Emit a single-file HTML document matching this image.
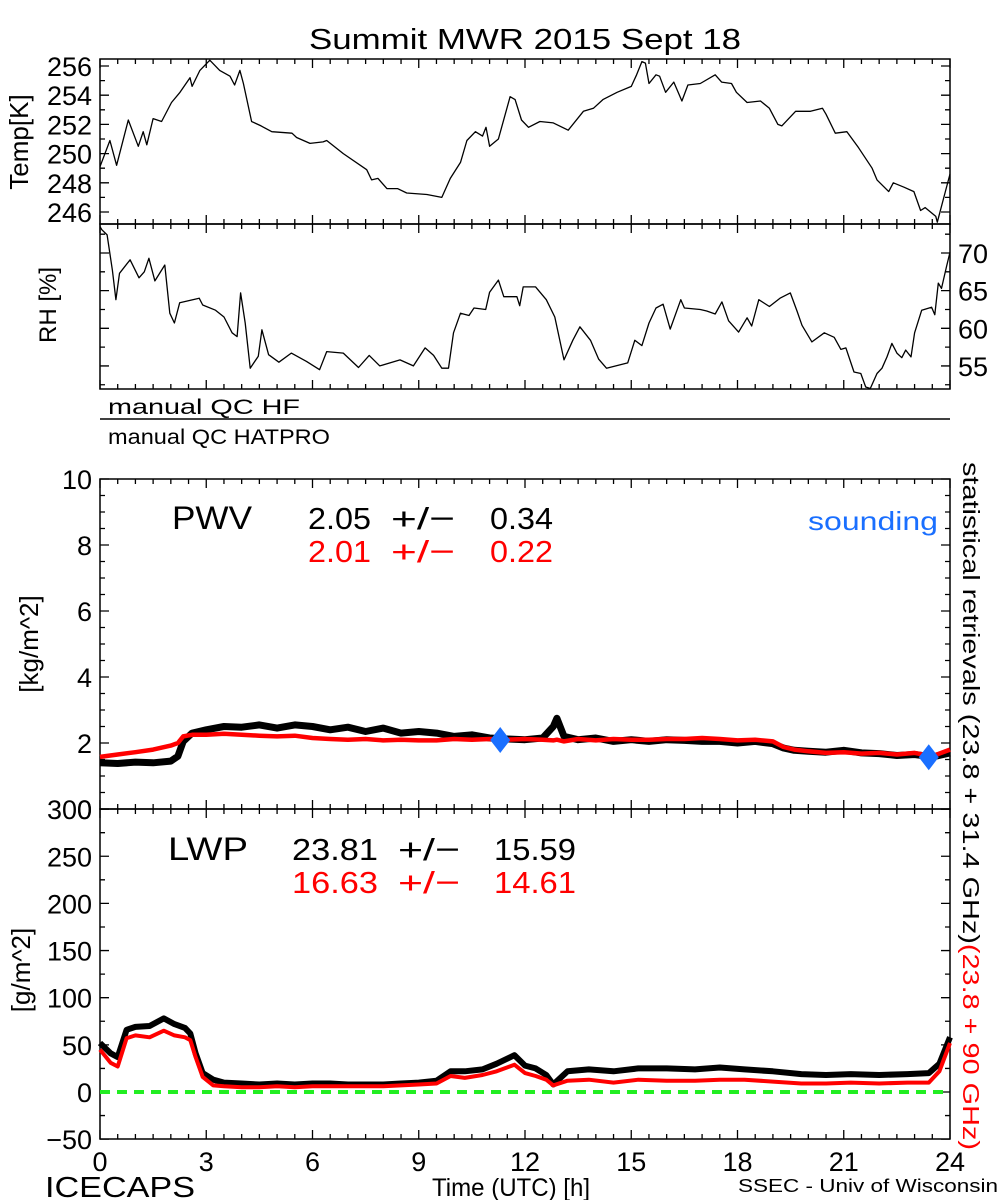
<!DOCTYPE html>
<html><head><meta charset="utf-8"><style>
html,body{margin:0;padding:0;background:#fff;}
svg{display:block;font-family:"Liberation Sans",sans-serif;}
</style></head><body>
<svg id="chart" xmlns="http://www.w3.org/2000/svg" width="1000" height="1200" viewBox="0 0 1000 1200">
<rect width="1000" height="1200" fill="#fff"/>
<text x="525" y="49" font-size="29" text-anchor="middle" textLength="432" lengthAdjust="spacingAndGlyphs">Summit MWR 2015 Sept 18</text>
<g id="g"></g>
</svg>
<script>
// ---- data ----
const tempT=[0,0.28,0.47,0.8,1.08,1.22,1.32,1.5,1.74,2.02,2.26,2.54,2.6,2.82,3.1,3.38,3.67,3.8,3.95,4.05,4.28,4.55,4.62,4.85,5.42,5.55,5.93,6.3,6.4,6.87,7.53,7.67,7.85,8.1,8.4,8.66,9.23,9.65,9.89,10.18,10.36,10.6,10.8,10.9,11.0,11.25,11.58,11.72,11.9,12.1,12.42,12.8,13.22,13.65,13.93,14.2,14.6,15.0,15.15,15.3,15.4,15.5,15.7,15.8,15.97,16.2,16.43,16.6,16.95,17.37,17.55,17.83,17.97,18.27,18.65,18.9,19.14,19.25,19.64,20.06,20.4,20.5,20.76,21.09,21.42,21.8,21.94,22.27,22.4,22.7,22.98,23.17,23.3,23.6,23.64,24.0];
const tempV=[249.1,250.9,249.2,252.3,250.5,251.5,250.6,252.4,252.2,253.5,254.2,255.2,254.6,255.7,256.4,255.7,255.3,254.7,255.7,254.8,252.2,251.9,251.8,251.5,251.4,251.1,250.7,250.8,250.9,250.0,248.9,248.2,248.3,247.6,247.6,247.3,247.2,247.0,248.3,249.4,250.9,251.5,251.2,251.8,250.5,251.0,253.9,253.7,252.3,251.8,252.2,252.1,251.6,252.9,253.1,253.7,254.2,254.6,255.4,256.3,256.2,254.8,255.4,255.3,254.2,254.9,253.6,254.7,254.8,255.4,254.9,254.8,254.2,253.5,253.6,253.1,252.0,251.9,252.9,252.9,253.1,252.7,251.4,251.5,250.4,249.0,248.2,247.4,248.0,247.7,247.4,246.1,246.3,245.7,245.3,248.6];
const rhT=[0,0.05,0.2,0.35,0.45,0.55,0.85,1.1,1.25,1.38,1.55,1.83,1.97,2.1,2.25,2.8,2.9,3.26,3.5,3.73,3.87,3.97,4.1,4.24,4.47,4.57,4.76,5.05,5.4,5.83,6.2,6.4,6.87,7.3,7.6,7.9,8.47,8.85,9.18,9.42,9.65,9.84,9.98,10.18,10.42,10.56,10.89,11.0,11.25,11.4,11.77,11.85,11.95,12.3,12.6,12.84,13.1,13.35,13.55,13.85,14.08,14.3,14.9,15.1,15.3,15.5,15.7,15.9,16.1,16.4,16.5,16.95,17.13,17.37,17.56,17.75,18.03,18.27,18.4,18.6,18.9,19.2,19.49,19.68,19.82,20.1,20.45,20.73,20.92,21.06,21.29,21.48,21.62,21.75,21.94,22.08,22.22,22.36,22.5,22.64,22.75,22.9,23.0,23.2,23.48,23.57,23.67,23.76,23.9,24.0];
const rhV=[73.5,73.1,72.4,67.7,63.8,67.3,69.1,66.7,67.5,69.3,66.3,68.4,62.0,60.7,63.4,64.0,63.1,62.4,61.5,59.4,58.9,64.7,60.7,54.7,56.3,59.8,56.5,55.5,56.7,55.6,54.5,56.9,56.7,54.8,56.4,55.0,55.8,55.0,57.4,56.4,54.7,54.7,59.4,62.0,61.7,62.7,62.5,64.8,66.4,64.2,64.2,63.0,65.5,65.5,63.8,61.5,55.8,58.4,60.2,58.4,55.9,54.7,55.4,58.4,57.7,60.7,62.7,63.2,59.9,63.8,62.7,62.5,62.3,61.9,63.5,61.0,59.5,61.4,60.3,63.8,62.9,64.0,64.7,62.3,60.4,58.2,59.4,58.8,57.2,57.4,54.2,54.0,52.2,52.0,54.0,54.7,56.2,58.0,56.7,56.1,57.1,56.2,59.4,62.4,62.8,61.8,66.0,65.3,68.2,70.1];
const pwvT=[0,0.5,1,1.5,2,2.2,2.35,2.6,3,3.5,4,4.5,5,5.5,6,6.5,7,7.5,8,8.5,9,9.5,10,10.5,11,11.5,12,12.5,12.8,12.9,13.1,13.5,14,14.5,15,15.5,16,16.5,17,17.5,18,18.5,19,19.3,19.6,20,20.5,21,21.5,22,22.5,23,23.5,24];
const pwvBlack=[1.40,1.38,1.42,1.40,1.45,1.60,2.05,2.30,2.40,2.50,2.48,2.55,2.45,2.55,2.50,2.40,2.48,2.35,2.45,2.30,2.35,2.30,2.20,2.25,2.15,2.12,2.10,2.15,2.50,2.75,2.20,2.10,2.15,2.05,2.10,2.05,2.10,2.08,2.05,2.05,2.00,2.05,1.98,1.85,1.78,1.75,1.72,1.78,1.70,1.68,1.62,1.65,1.58,1.70];
const pwvRed=[1.58,1.65,1.72,1.80,1.92,2.00,2.20,2.25,2.25,2.28,2.25,2.22,2.20,2.22,2.15,2.12,2.10,2.12,2.08,2.10,2.08,2.08,2.12,2.10,2.12,2.10,2.12,2.10,2.08,2.10,2.05,2.12,2.08,2.12,2.10,2.10,2.12,2.12,2.15,2.12,2.08,2.10,2.05,1.88,1.80,1.75,1.70,1.72,1.68,1.70,1.65,1.70,1.60,1.80];
const sondeT=[11.3,23.4];
const sondeV=[2.09,1.57];
const lwpT=[0,0.3,0.5,0.75,1,1.4,1.8,2.1,2.4,2.55,2.7,2.9,3.2,3.5,4,4.5,5,5.5,6,6.5,7,7.5,8,8.5,9,9.5,9.9,10.3,10.8,11.2,11.7,12.0,12.3,12.6,12.8,13.2,13.8,14.5,15.2,16,16.8,17.5,18.2,19,19.8,20.5,21.2,22,22.8,23.4,23.7,24];
const lwpBlack=[52,41,37,66,69,70,78,72,68,62,41,20,13,10,9,8,9,8,9,9,8,8,8,9,10,12,22,22,24,30,39,28,25,18,8,22,24,22,25,25,24,26,24,22,19,18,19,18,19,20,30,58];
const lwpRed=[45,31,27,57,60,58,65,60,58,55,37,16,7,6,5,5,6,5,6,6,6,6,6,7,8,9,17,15,18,22,29,20,17,13,7,12,13,10,13,12,12,13,13,11,9,9,10,9,10,10,22,52];
const tempTicks=[246,248,250,252,254,256];
const rhTicks=[55,60,65,70];
const pwvTicks=[0,2,4,6,8,10];
const lwpTicks=[-50,0,50,100,150,200,250,300];
const xTicks=[0,3,6,9,12,15,18,21,24];

// ---- axes ----
const X0=100,X1=950;
const sx=h=>X0+(X1-X0)*h/24;
const syT=v=>66+(256-v)*14.6;
const syR=v=>253+(70-v)*7.53;
const syP=v=>809-v*33;
const syL=v=>1092-v*0.943;
const NS='http://www.w3.org/2000/svg';
const G=document.getElementById('g');
function mk(tag,attrs,parent){const e=document.createElementNS(NS,tag);for(const k in attrs)e.setAttribute(k,attrs[k]);(parent||G).appendChild(e);return e;}
function poly(ts,vs,sy){return ts.map((t,i)=>sx(t).toFixed(1)+','+sy(vs[i]).toFixed(1)).join(' ');}

function frame(name,top,bot){
  const r=mk('rect',{x:X0,y:top,width:X1-X0,height:bot-top,fill:'none',stroke:'#000','stroke-width':1.5});
  
  
  let d='';
  for(let h=0;h<=24;h+=0.5){const x=sx(h);const L=(h%3===0)?9:5;d+=`M${x},${bot}v${-L}M${x},${top}v${L}`;}
  const p=mk('path',{d:d,stroke:'#000','stroke-width':1.3,fill:'none'});
  
  
}
function yticks(name,vals,minor,sy,top,bot,side,labels){
  let d='';
  for(let v=vals[0]-minor*4;v<=vals[vals.length-1]+minor*4;v+=minor){const y=sy(v);if(y<top-0.5||y>bot+0.5)continue;const major=vals.some(a=>Math.abs(a-v)<1e-6);const L=major?9:5;
    if(side!=='right')d+=`M${X0},${y}h${L}`; if(side!=='left')d+=`M${X1},${y}h${-L}`;}
  const p=mk('path',{d:d,stroke:'#000','stroke-width':1.3,fill:'none'});
  
  
  if(labels){vals.forEach(v=>{const t=mk('text',{x:labels==='right'?958:92,y:sy(v)+10,'font-size':27,'text-anchor':labels==='right'?'start':'end'});t.textContent=(v<0?'\u2212'+(-v):v);
    
    });}
}
function line(name,ts,vs,sy,col,w){
  const e=mk('polyline',{points:poly(ts,vs,sy),fill:'none',stroke:col,'stroke-width':w,'stroke-linejoin':'round'});
  
  
}
frame('temp-panel',59,224);
yticks('temp',tempTicks,1,syT,59,224,'both','left');
line('temp-line',tempT,tempV,syT,'#000',1.3);
frame('rh-panel',224,389);
yticks('rh',rhTicks,2.5,syR,224,389,'both','right');
line('rh-line',rhT,rhV,syR,'#000',1.3);
const q=mk('line',{x1:X0,x2:X1,y1:419,y2:419,stroke:'#000','stroke-width':1.5});


frame('pwv-panel',479,809);
yticks('pwv',pwvTicks,0.5,syP,479,809,'both','left');
line('pwv-black-line',pwvT,pwvBlack,syP,'#000',7);
line('pwv-red-line',pwvT,pwvRed,syP,'#ff0000',4.5);
sondeT.forEach((t,i)=>{const x=sx(t),y=syP(sondeV[i]);
  const d=mk('polygon',{points:`${x},${y-13} ${x+10},${y} ${x},${y+13} ${x-10},${y}`,fill:'#1a6fff'});
  
  });
frame('lwp-panel',809,1139);
yticks('lwp',lwpTicks,25,syL,809,1139,'both','left');
const z=mk('line',{x1:X0,x2:X1,y1:syL(0),y2:syL(0),stroke:'#22ee22','stroke-width':4,'stroke-dasharray':'10,7'});


line('lwp-black-line',lwpT,lwpBlack,syL,'#000',6);
line('lwp-red-line',lwpT,lwpRed,syL,'#ff0000',4);
xTicks.forEach(h=>{const t=mk('text',{x:sx(h),y:1171,'font-size':27,'text-anchor':'middle'});t.textContent=h;
  
  });
</script>
<svg style="position:absolute;left:0;top:0" width="1000" height="1200" font-family="Liberation Sans, sans-serif">
<text transform="translate(28,142) rotate(-90)" font-size="26" text-anchor="middle">Temp[K]</text>
<text transform="translate(56,305) rotate(-90)" font-size="24" text-anchor="middle">RH [%]</text>
<text x="108" y="414" font-size="21" textLength="192" lengthAdjust="spacingAndGlyphs">manual QC HF</text>
<text x="108" y="444" font-size="21" textLength="222" lengthAdjust="spacingAndGlyphs">manual QC HATPRO</text>
<text transform="translate(38,644) rotate(-90)" font-size="26" text-anchor="middle">[kg/m^2]</text>
<text x="172" y="529" font-size="32" textLength="80" lengthAdjust="spacingAndGlyphs">PWV</text>
<g font-size="31">
<text x="308" y="529" textLength="63" lengthAdjust="spacingAndGlyphs">2.05</text><text x="391" y="529" textLength="64" lengthAdjust="spacingAndGlyphs">+/−</text><text x="490" y="529" textLength="63" lengthAdjust="spacingAndGlyphs">0.34</text></g>
<g font-size="31" fill="#ff0000">
<text x="308" y="562" textLength="63" lengthAdjust="spacingAndGlyphs">2.01</text><text x="391" y="562" textLength="64" lengthAdjust="spacingAndGlyphs">+/−</text><text x="490" y="562" textLength="63" lengthAdjust="spacingAndGlyphs">0.22</text></g>
<text x="808" y="530" font-size="26" textLength="130" lengthAdjust="spacingAndGlyphs" fill="#1a6fff">sounding</text>
<text transform="translate(30,970) rotate(-90)" font-size="26" text-anchor="middle">[g/m^2]</text>
<text x="168" y="860" font-size="32" textLength="80" lengthAdjust="spacingAndGlyphs">LWP</text>
<g font-size="31">
<text x="292" y="860" textLength="86" lengthAdjust="spacingAndGlyphs">23.81</text><text x="398" y="860" textLength="62" lengthAdjust="spacingAndGlyphs">+/−</text><text x="494" y="860" textLength="82" lengthAdjust="spacingAndGlyphs">15.59</text></g>
<g font-size="31" fill="#ff0000">
<text x="292" y="893" textLength="86" lengthAdjust="spacingAndGlyphs">16.63</text><text x="398" y="893" textLength="62" lengthAdjust="spacingAndGlyphs">+/−</text><text x="494" y="893" textLength="82" lengthAdjust="spacingAndGlyphs">14.61</text></g>
<text transform="translate(963,462) rotate(90)" font-size="23" textLength="688" lengthAdjust="spacingAndGlyphs"><tspan fill="#000">statistical retrievals (23.8 + 31.4 GHz)</tspan><tspan fill="#ff0000">(23.8 + 90 GHz)</tspan></text>
<text x="45" y="1197" font-size="29" textLength="150" lengthAdjust="spacingAndGlyphs">ICECAPS</text>
<text x="432" y="1196" font-size="25" textLength="158" lengthAdjust="spacingAndGlyphs">Time (UTC) [h]</text>
<text x="738" y="1192" font-size="18" textLength="260" lengthAdjust="spacingAndGlyphs">SSEC - Univ of Wisconsin</text>
</svg>
</body></html>
